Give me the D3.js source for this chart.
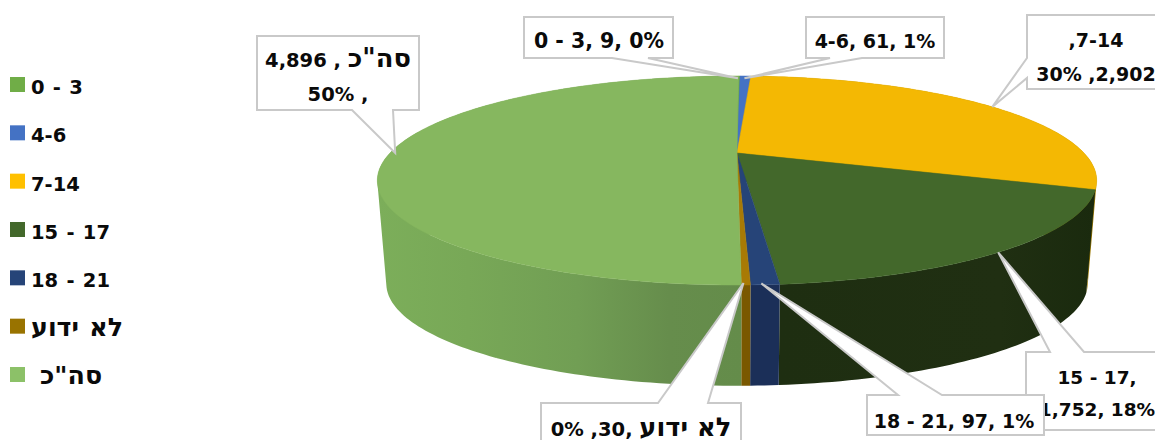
<!DOCTYPE html>
<html><head><meta charset="utf-8">
<script src="https://cdn.jsdelivr.net/npm/d3@7/dist/d3.min.js"></script>
<style>html,body{margin:0;padding:0;background:#fff;overflow:hidden}svg{display:block}
text{font-family:"DejaVu Sans",sans-serif;font-weight:700;fill:#0a0a0a;direction:ltr}</style>
</head><body><svg id="c" width="1155" height="440"></svg>
<script>
const categories = ["0 - 3","4-6","7-14","15 - 17","18 - 21","לא ידוע","סה\"כ"];
const values = [9,61,2902,1752,97,30,4896];
const legendColors = ["#70ad47","#4472c4","#ffc000","#43682b","#264478","#997300","#8cc168"];
const topColors = ["#70ad47","#4472c4","#f4b803","#43682b","#264478","#a87a05","#86b75f"];
const sideStops = [
  [["#4a7530",0],["#4a7530",1]],
  [["#2b4a80",0],["#2b4a80",1]],
  [["#9c7a05",0],["#9c7a05",1]],
  [["#1e2e11",0],["#202f12",.7],["#1a2a0e",1]],
  [["#1b2f58",0],["#1b2f58",1]],
  [["#7a5800",0],["#7a5800",1]],
  [["#7cae5a",0],["#78a857",.25],["#719e54",.55],["#668d4c",.8],["#648c4a",1]]
];
const labelLines = [
  ["0 - 3, 9, 0%"],["4-6, 61, 1%"],[",7-14","30% ,2,902"],["15 - 17,","1,752, 18%"],
  ["18 - 21, 97, 1%"],["0% ,30, לא ידוע"],["4,896 , סה\"כ","50% ,"]
];
const boxes = [
  {b:[524,17,673,58],t:[[612,58],[648,58]],a:0.2,r:.97,c:599,y:[48],f:20.5},
  {b:[806,17,944,58],t:[[830,58],[862,58]],a:1.6,r:.97,c:875,y:[48],f:19},
  {b:[1027,15,1190,89],t:[[1027,58],[1027,78]],a:57.2,r:1.0,c:1096,y:[47,81],f:19},
  {b:[1026,352,1190,430],t:[[1050,352],[1084,352]],a:143.6,r:1,c:1097,y:[384,416],f:18.5},
  {b:[867,395,1044,435],t:[[898,395],[942,395]],a:177,r:.99,c:954,y:[428],f:19},
  {b:[541,403,741,450],t:[[658,403],[708,403]],a:179.2,r:.985,c:641,y:[436],f:19.5},
  {b:[257,36,419,110],t:[[352,110],[393,110]],a:270,r:.985,c:338,y:[67,101],f:19.5}
];
const drawOrder = [6,0,1,2,3,4,5];
const svg=d3.select("#c");
const defs=svg.append("defs");
const apex={x:737,y:153}, p=-0.263, A=347, B=97.3;
const sideDrop=104, sideScale=.975, rot=0.3*Math.PI/180;
const rim=(th,s=1,d=0)=>{const u=Math.sin(th),v=-Math.cos(th),w=1+p*v;
  return [apex.x+s*A*u/w, apex.y+d+s*B*v/w];};
const arcs=d3.pie().sort(null).startAngle(rot).endAngle(2*Math.PI+rot).value(d=>d)(values);
const line=d3.line();
const sample=(a0,a1,s,d)=>{const n=Math.max(2,Math.ceil((a1-a0)/.02));
  return d3.range(n+1).map(i=>rim(a0+(a1-a0)*i/n,s,d));};
// text with the Hebrew run set larger, as in the reference
const setText=(sel,s,fs,ratio)=>{
  sel.attr("font-size",fs);
  s.split(/([\u0590-\u05FF][\u0590-\u05FF" ]*)/).filter(x=>x).forEach(part=>{
    const heb=/[\u0590-\u05FF]/.test(part);
    sel.append("tspan").attr("font-size",heb?fs*ratio:fs).text(part);
  });
};
arcs.forEach((a,i)=>{
  const top=sample(a.startAngle,a.endAngle,1,0);
  const bot=sample(a.startAngle,a.endAngle,sideScale,sideDrop);
  const xs=top.concat(bot).map(q=>q[0]);
  const g=defs.append("linearGradient").attr("id","s"+i).attr("gradientUnits","userSpaceOnUse")
    .attr("x1",d3.min(xs)).attr("x2",d3.max(xs)).attr("y1",0).attr("y2",0);
  sideStops[i].forEach(st=>g.append("stop").attr("offset",st[1]).attr("stop-color",st[0]));
  let d="";
  top.slice(1).forEach((q,k)=>{
    let quad=[top[k],q,bot[k+1],bot[k]];
    if(d3.polygonArea(quad)<0) quad=quad.reverse();
    d+=line(quad)+"Z";
  });
  svg.append("path").attr("d",d).attr("fill",`url(#s${i})`);
});
arcs.forEach((a,i)=>{
  const pts=[[apex.x,apex.y]].concat(sample(a.startAngle,a.endAngle,1,0));
  svg.append("path").attr("d",line(pts)+"Z").attr("fill",topColors[i]).attr("stroke",topColors[i]).attr("stroke-width",.5);
});
drawOrder.forEach(i=>{
  const bx=boxes[i], [x0,y0,x1,y1]=bx.b;
  const q=rim(bx.a*Math.PI/180,1,0);
  const tip=[apex.x+(q[0]-apex.x)*bx.r,apex.y+(q[1]-apex.y)*bx.r];
  const [t0,t1]=bx.t;
  let pts;
  if(t0[1]===y1) pts=[[x0,y0],[x1,y0],[x1,y1],t1,tip,t0,[x0,y1]];
  else if(t0[1]===y0) pts=[[x0,y0],t0,tip,t1,[x1,y0],[x1,y1],[x0,y1]];
  else pts=[[x0,y0],[x1,y0],[x1,y1],[x0,y1],t1,tip,t0];
  svg.append("path").attr("d",line(pts)+"Z").attr("fill","#fff").attr("stroke","#c9c9c9").attr("stroke-width",2);
  labelLines[i].forEach((s,k)=>{
    const t=svg.append("text").attr("x",bx.c).attr("y",bx.y[k]).attr("text-anchor","middle");
    setText(t,s,bx.f,1.32);
  });
});
const ly=d3.scaleLinear().domain([0,6]).range([77,367]);
categories.forEach((c,i)=>{
  svg.append("rect").attr("x",10).attr("y",ly(i)).attr("width",15).attr("height",15).attr("fill",legendColors[i]);
  const t=svg.append("text").attr("x",i==6?40:31).attr("y",ly(i)+17).attr("word-spacing","1.5px");
  setText(t,c,19.5,1.3);
});
</script></body></html>
